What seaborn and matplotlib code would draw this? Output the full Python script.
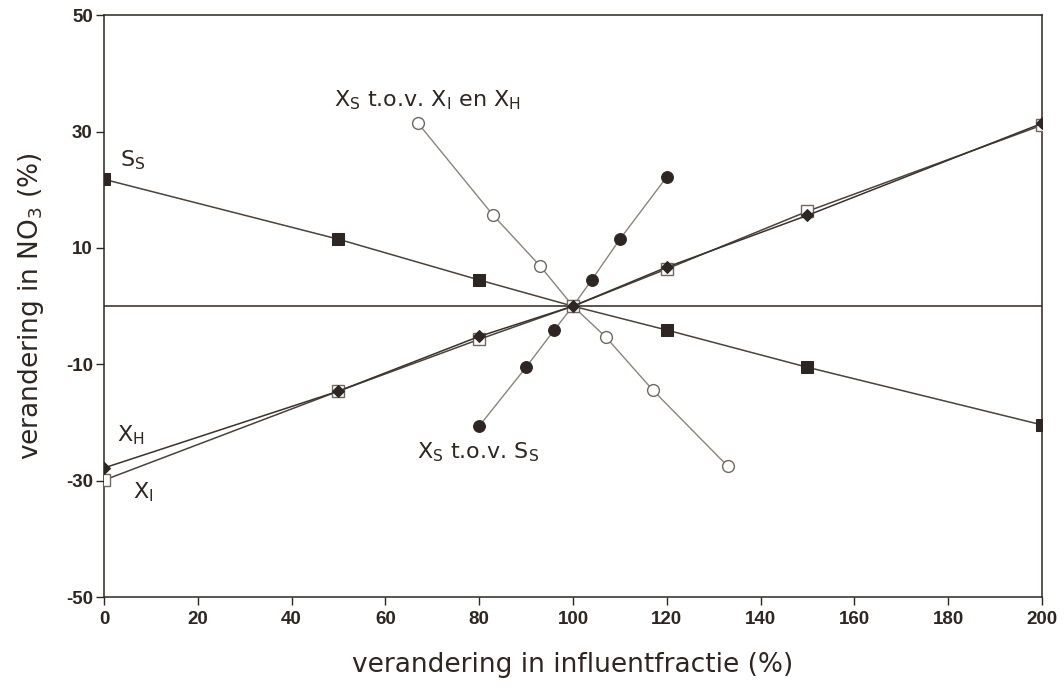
import matplotlib
matplotlib.use("Agg")
import matplotlib.pyplot as plt
import seaborn as sns

# data
x_main = [0, 50, 80, 100, 120, 150, 200]
ss_vals = [21.8, 11.5, 4.5, 0.0, -4.1, -10.5, -20.4]
xh_vals = [-27.8, -14.6, -5.2, 0.0, 6.7, 15.6, 31.4]
xi_vals = [-29.9, -14.6, -5.7, 0.0, 6.4, 16.3, 31.1]

x_xs_ih = [67, 83, 93, 100, 107, 117, 133]
xs_ih_vals = [31.4, 15.6, 6.9, 0.0, -5.3, -14.4, -27.5]

x_xs_ss = [80, 90, 96, 100, 104, 110, 120]
xs_ss_vals = [-20.6, -10.5, -4.1, 0.0, 4.5, 11.5, 22.2]

ink = "#2e2622"
grey_line = "#8a847e"

sns.set_style("ticks")
plt.rcParams['font.family'] = ['DejaVu Sans']
plt.rcParams['axes.unicode_minus'] = False

fig = plt.figure(figsize=(10.64, 6.88), dpi=100)
ax = fig.add_axes([0.0977, 0.132, 0.8816, 0.846])

ax.axhline(0, color=ink, lw=1.1, zorder=1)

# X_S t.o.v. X_I en X_H (open circles)
sns.lineplot(x=x_xs_ih, y=xs_ih_vals, ax=ax, color=grey_line, lw=1.0,
             marker="o", markersize=8.5, markerfacecolor="white",
             markeredgecolor="#6e6862", markeredgewidth=1.0, zorder=3)
# X_S t.o.v. S_S (filled circles)
sns.lineplot(x=x_xs_ss, y=xs_ss_vals, ax=ax, color=grey_line, lw=1.0,
             marker="o", markersize=8.5, markerfacecolor=ink,
             markeredgecolor=ink, zorder=3)
# S_S (filled squares)
sns.lineplot(x=x_main, y=ss_vals, ax=ax, color="#4a423c", lw=1.1,
             marker="s", markersize=9, markerfacecolor=ink,
             markeredgecolor=ink, zorder=4)
# X_I (open squares)
sns.lineplot(x=x_main, y=xi_vals, ax=ax, color="#4a423c", lw=1.1,
             marker="s", markersize=8, markerfacecolor="white",
             markeredgecolor="#6e6862", markeredgewidth=1.0, zorder=4)
# X_H (filled diamonds)
sns.lineplot(x=x_main, y=xh_vals, ax=ax, color="#3a322d", lw=1.1,
             marker="D", markersize=6.5, markerfacecolor=ink,
             markeredgecolor=ink, zorder=5)

ax.set_xlim(0, 200)
ax.set_ylim(-50, 50)
ax.set_xticks(range(0, 201, 20))
ax.set_yticks([-50, -30, -10, 10, 30, 50])
ax.tick_params(direction="out", length=6, width=1, color=ink,
               labelsize=13.5, labelcolor=ink)
ax.tick_params(axis="x", pad=4)
ax.tick_params(axis="y", pad=2)
for lab in ax.get_xticklabels() + ax.get_yticklabels():
    lab.set_fontweight("bold")
    lab.set_fontfamily("Liberation Sans")
for sp in ax.spines.values():
    sp.set_visible(True)
    sp.set_color(ink)
    sp.set_linewidth(1.1)

ax.set_xlabel("verandering in influentfractie (%)", fontsize=19, color=ink, labelpad=17)
ax.set_ylabel("verandering in NO$_3$ (%)", fontsize=19, color=ink, labelpad=14)

txt = dict(fontsize=16, color=ink, va="center", ha="left")
ax.text(49, 35.3, r"X$_\mathregular{S}$ t.o.v. X$_\mathregular{I}$ en X$_\mathregular{H}$", **txt)
ax.text(3.4, 25.1, r"S$_\mathregular{S}$", **txt)
ax.text(2.8, -22.2, r"X$_\mathregular{H}$", **txt)
ax.text(6.2, -32.0, r"X$_\mathregular{I}$", **txt)
ax.text(66.7, -25.1, r"X$_\mathregular{S}$ t.o.v. S$_\mathregular{S}$", **txt)

fig.savefig("out.png", dpi=100, facecolor="white")
